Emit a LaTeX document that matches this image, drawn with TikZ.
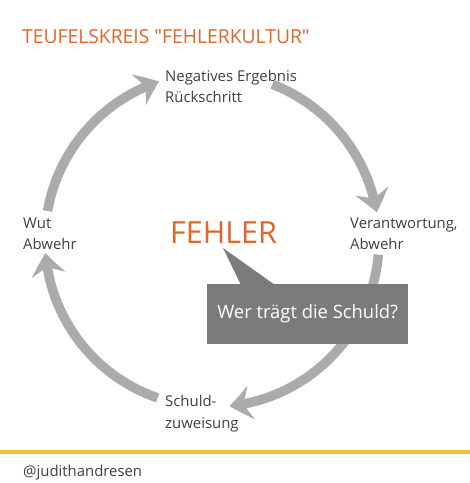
\documentclass[tikz,border=0pt]{standalone}
\usepackage{fontspec}
\setmainfont{Open Sans}
\newfontfamily\plainfont{Open Sans}
\usetikzlibrary{arrows.meta,bending}
\definecolor{orng}{HTML}{E0662A}
\definecolor{arcgrey}{HTML}{ABABAB}
\definecolor{boxgrey}{HTML}{7B7B7B}
\definecolor{txtgrey}{HTML}{404040}
\definecolor{ylw}{HTML}{F2C12E}
\begin{document}
\begin{tikzpicture}[x=1pt,y=1pt,
  cyc/.style={draw=arcgrey,line width=9.5pt,-{Stealth[length=22pt,width=34pt,inset=8pt,bend]}},
  lbl/.style={anchor=base west,inner sep=0pt,align=left,text=txtgrey,font=\fontsize{14.9}{21}\selectfont},
]
\useasboundingbox (0,0) rectangle (470,483);
\fill[white] (0,0) rectangle (470,483);
\coordinate (c) at (212,243);

% labels
\node[anchor=base west,inner sep=0pt,text=orng,font=\plainfont\fontsize{19.3}{22}\selectfont] (title) at (22,439) {TEUFELSKREIS "FEHLERKULTUR"};
\node[lbl] (neg) at (165,380) {Negatives Ergebnis\\Rückschritt};
\node[lbl] (wut) at (23,233) {Wut\\Abwehr};
\node[lbl] (ver) at (350,233) {Verantwortung,\\Abwehr};
\node[lbl] (sch) at (165,55) {Schuld-\\zuweisung};

% cycle arcs
\draw[cyc] (c) ++(251:167) arc[start angle=251,end angle=184.5,radius=167];
\draw[cyc] (c) ++(170:167) arc[start angle=170,end angle=108.5,radius=167];
\draw[cyc] (c) ++(68.8:167) arc[start angle=68.8,end angle=9.5,radius=167];
\draw[cyc] (c) ++(-5:167) arc[start angle=-5,end angle=-84,radius=167];

% center
\node[anchor=base west,inner sep=0pt,text=orng,font=\fontsize{30.5}{34}\selectfont] (fehler) at (170,239) {FEHLER};
\fill[boxgrey] (223,235) -- (241,198) -- (275,198) -- cycle;
\node[fill=boxgrey,minimum width=201pt,minimum height=60pt,inner sep=0pt,anchor=north west,text=white,font=\fontsize{18.4}{21}\selectfont] (q) at (207,199) {Wer trägt die Schuld?};

% footer
\fill[ylw] (0,28.5) rectangle (470,32.5);
\node[anchor=base west,inner sep=0pt,text=txtgrey,font=\fontsize{14.9}{17}\selectfont] (handle) at (23,6) {@judithandresen};
\end{tikzpicture}
\end{document}
